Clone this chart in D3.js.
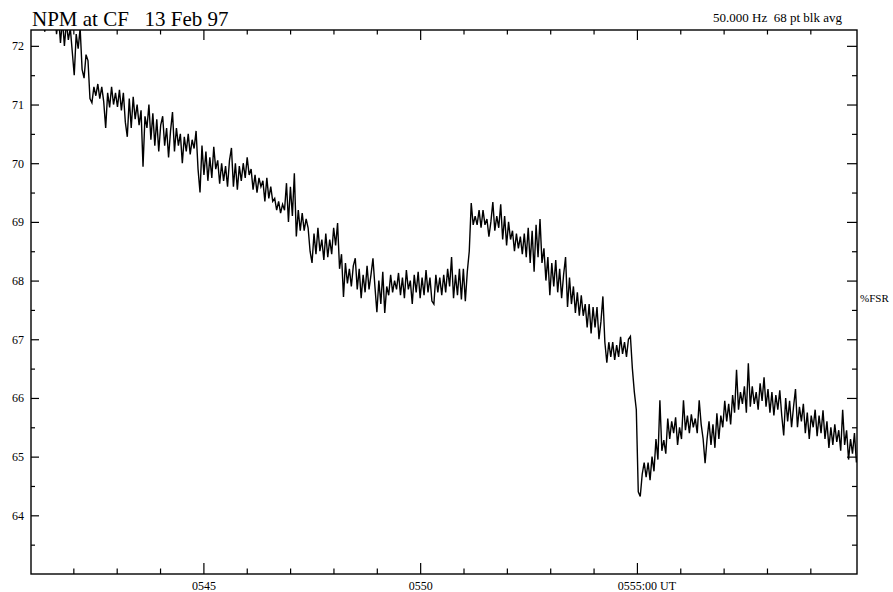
<!DOCTYPE html>
<html>
<head>
<meta charset="utf-8">
<script src="https://cdn.jsdelivr.net/npm/d3@7"></script>
<style>
  html, body { margin: 0; padding: 0; background: #fff; }
  svg { display: block; }
  text { font-family: "Liberation Serif", "Times New Roman", serif; fill: #000; }
</style>
</head>
<body>
<div id="chart"></div>
<script>
// ---- data ----
const titleText = "NPM at CF   13 Feb 97";
const infoText = "50.000 Hz  68 pt blk avg";
const unitText = "%FSR";

// time axis: seconds after 05:40:00 UT
const timeDomain = [61.4, 1204.6];
const majorTimeTicks = [300, 600, 900];
const majorTimeLabels = ["0545", "0550", "0555:00"];
const timeLabelSuffix = " UT";
const minorTimeTicks = [120, 180, 240, 360, 420, 480, 540, 660, 720, 780, 840, 960, 1020, 1080, 1140];

// value axis (%FSR)
const valueDomain = [63, 72.27];
const majorValueTicks = [64, 65, 66, 67, 68, 69, 70, 71, 72];
const minorValueTicks = [63.5, 64.5, 65.5, 66.5, 67.5, 68.5, 69.5, 70.5, 71.5];

// samples: first sample time and spacing (s)
const sampleStart = 61.4;
const sampleStep = 2.72;
const values = [
  72.6, 72.8, 72.5, 72.7, 72.4, 72.6, 72.5, 72.24, 72.6, 72.45,
  72.7, 72.4, 72.6, 72.2, 72.5, 72.05, 72.45, 72.0, 72.4, 72.1,
  72.3, 71.9, 71.5, 72.2, 71.95, 72.3, 71.6, 71.45, 71.85, 71.75,
  71.1, 71.03, 71.3, 71.15, 71.35, 71.1, 71.3, 71.05, 70.6, 71.2,
  70.95, 71.3, 71.0, 71.2, 70.96, 71.25, 70.9, 71.2, 70.7, 70.45,
  71.1, 70.6, 71.13, 70.75, 71.0, 70.65, 70.9, 69.94, 70.8, 70.6,
  71.0, 70.4, 70.85, 70.3, 70.75, 70.2, 70.65, 70.8, 70.3, 70.6,
  70.1, 70.55, 70.87, 70.2, 70.6, 70.3, 70.5, 70.0, 70.45, 70.2,
  70.5, 70.15, 70.4, 70.25, 70.55, 69.9, 69.5, 70.3, 69.8, 70.2,
  69.7, 70.1, 69.75, 70.28, 69.9, 70.05, 69.65, 70.0, 69.7, 69.95,
  69.6, 70.05, 70.26, 69.6, 70.0, 69.55, 69.95, 69.7, 70.0, 69.75,
  70.1, 69.8, 69.9, 69.55, 69.8, 69.5, 69.75, 69.6, 69.7, 69.35,
  69.75, 69.4, 69.6, 69.35, 69.4, 69.2, 69.35, 69.15, 69.3, 69.2,
  69.66, 69.0, 69.6, 69.1, 69.83, 68.75, 69.2, 68.85, 69.15, 68.85,
  69.05, 68.9, 68.5, 68.3, 68.8, 68.45, 68.9, 68.5, 68.7, 68.35,
  68.8, 68.4, 68.7, 68.45, 68.9, 68.6, 68.98, 68.2, 68.45, 67.72,
  68.3, 67.95, 68.2, 67.9, 68.25, 68.38, 67.85, 68.2, 67.7, 68.1,
  67.8, 68.25, 67.85, 68.1, 68.38, 67.9, 67.46, 68.0, 67.6, 68.15,
  67.45, 67.9, 67.75, 68.1, 67.8, 68.0, 67.85, 68.13, 67.75, 68.05,
  67.7, 68.18, 67.85, 68.0, 67.6, 68.1, 67.8, 68.15, 67.7, 68.05,
  67.75, 68.18, 67.8, 68.05, 67.65, 67.6, 68.1, 67.8, 68.05, 67.75,
  68.1, 67.8, 68.2, 67.9, 68.4, 67.7, 68.1, 67.75, 68.2, 67.68,
  68.2, 67.65, 68.15, 68.5, 69.32, 68.95, 69.1, 68.95, 69.2, 68.9,
  69.2, 68.95, 69.05, 68.75, 69.0, 69.34, 68.85, 69.1, 68.9, 69.3,
  68.7, 69.1, 68.6, 69.0, 68.7, 68.85, 68.5, 68.8, 68.55, 68.75,
  68.45, 68.8, 68.4, 68.9, 68.3, 68.85, 68.15, 68.95, 68.4, 69.05,
  68.3, 68.55, 68.0, 68.4, 67.75, 68.3, 67.9, 68.35, 67.8, 68.2,
  67.7, 68.1, 68.4, 67.55, 68.05, 67.6, 67.9, 67.45, 67.8, 67.4,
  67.75, 67.4, 67.6, 67.2, 67.6, 67.1, 67.55, 67.2, 67.55, 67.0,
  67.3, 67.73, 66.95, 66.6, 66.95, 66.7, 66.95, 66.65, 66.9, 66.7,
  67.04, 66.75, 66.95, 66.7, 67.0, 67.05, 66.5, 66.1, 65.8, 64.4,
  64.32, 64.7, 64.9, 64.65, 64.9, 64.6, 65.0, 64.75, 65.3, 64.95,
  65.96, 65.1, 65.28, 65.05, 65.65, 65.3, 65.6, 65.4, 65.67, 65.2,
  65.5, 65.3, 65.96, 65.45, 65.7, 65.4, 65.72, 65.5, 65.65, 65.4,
  65.96, 65.55, 65.3, 64.89, 65.3, 65.6, 65.2, 65.55, 65.15, 65.74,
  65.3, 65.7, 65.5, 65.95, 65.6, 65.9, 65.55, 66.05, 65.75, 66.48,
  65.8, 66.1, 65.9, 66.2, 65.75, 66.59, 65.85, 66.2, 65.9, 66.1,
  65.8, 66.25, 65.95, 66.35, 65.85, 66.15, 65.75, 66.1, 65.7, 66.05,
  65.8, 66.13, 65.7, 65.36, 66.0, 65.6, 65.95, 65.5, 65.85, 66.15,
  65.5, 65.85, 65.6, 65.9, 65.4, 65.75, 65.3, 65.7, 65.5, 65.8,
  65.35, 65.7, 65.4, 65.79, 65.3, 65.6, 65.15, 65.5, 65.2, 65.55,
  65.25, 65.45, 65.1, 65.8, 65.2, 65.45, 64.95, 65.3, 65.05, 65.4, 64.9
];
const samples = values.map((v, i) => ({ t: sampleStart + i * sampleStep, v }));

// ---- layout ----
const W = 893, H = 592;
const plot = { left: 31, right: 857, top: 30, bottom: 574 };

const svg = d3.select("#chart").append("svg")
  .attr("width", W).attr("height", H)
  .attr("viewBox", `0 0 ${W} ${H}`);

const x = d3.scaleLinear().domain(timeDomain).range([plot.left, plot.right]);
const y = d3.scaleLinear().domain(valueDomain).range([plot.bottom, plot.top]);

svg.append("defs").append("clipPath").attr("id", "clip")
  .append("rect")
  .attr("x", plot.left).attr("y", plot.top)
  .attr("width", plot.right - plot.left).attr("height", plot.bottom - plot.top);

// data line
const line = d3.line().x(d => x(d.t)).y(d => y(d.v));
svg.append("path")
  .datum(samples)
  .attr("clip-path", "url(#clip)")
  .attr("fill", "none")
  .attr("stroke", "#000")
  .attr("stroke-width", 1.4)
  .attr("stroke-linejoin", "miter")
  .attr("d", line);

// axes helper
function styleAxis(g) {
  g.select(".domain").remove();
  g.selectAll(".tick line").attr("stroke", "#000").attr("stroke-width", 1.2);
  g.selectAll("text").attr("font-family", "Liberation Serif, Times New Roman, serif").attr("fill", "#000");
}

// left axis
svg.append("g").attr("transform", `translate(${plot.left},0)`)
  .call(d3.axisLeft(y).tickValues(majorValueTicks).tickSize(-8).tickPadding(7).tickFormat(d3.format("d")))
  .call(styleAxis)
  .call(g => g.selectAll("text").attr("font-size", 12));
svg.append("g").attr("transform", `translate(${plot.left},0)`)
  .call(d3.axisLeft(y).tickValues(minorValueTicks).tickSize(-4).tickFormat(""))
  .call(styleAxis);

// right axis
svg.append("g").attr("transform", `translate(${plot.right},0)`)
  .call(d3.axisRight(y).tickValues(majorValueTicks).tickSize(-10).tickFormat(""))
  .call(styleAxis);
svg.append("g").attr("transform", `translate(${plot.right},0)`)
  .call(d3.axisRight(y).tickValues(minorValueTicks).tickSize(-5).tickFormat(""))
  .call(styleAxis);

// top axis
svg.append("g").attr("transform", `translate(0,${plot.top})`)
  .call(d3.axisTop(x).tickValues(majorTimeTicks).tickSize(-10).tickFormat(""))
  .call(styleAxis);
svg.append("g").attr("transform", `translate(0,${plot.top})`)
  .call(d3.axisTop(x).tickValues(minorTimeTicks).tickSize(-4.5).tickFormat(""))
  .call(styleAxis);

// bottom axis
const bottomAxis = svg.append("g").attr("transform", `translate(0,${plot.bottom})`)
  .call(d3.axisBottom(x).tickValues(majorTimeTicks).tickSize(-11).tickPadding(7.5)
    .tickFormat((d, i) => majorTimeLabels[i]))
  .call(styleAxis)
  .call(g => g.selectAll("text").attr("font-size", 12));
svg.append("g").attr("transform", `translate(0,${plot.bottom})`)
  .call(d3.axisBottom(x).tickValues(minorTimeTicks).tickSize(-5.5).tickFormat(""))
  .call(styleAxis);

// append " UT" to last label, keeping "0555:00" centred on its tick
bottomAxis.selectAll(".tick text").each(function(d, i) {
  if (i === majorTimeLabels.length - 1) {
    const t = d3.select(this);
    const base = this.getComputedTextLength();
    t.attr("text-anchor", "start").attr("x", -base / 2);
    t.append("tspan").attr("xml:space", "preserve").style("white-space", "pre").text(timeLabelSuffix);
  }
});

// frame
svg.append("rect")
  .attr("x", plot.left).attr("y", plot.top)
  .attr("width", plot.right - plot.left).attr("height", plot.bottom - plot.top)
  .attr("fill", "none").attr("stroke", "#000").attr("stroke-width", 1.4);

// title & annotations
svg.append("text")
  .attr("x", 32).attr("y", 26)
  .attr("font-size", 21)
  .style("white-space", "pre")
  .text(titleText);

svg.append("text")
  .attr("x", 842).attr("y", 22)
  .attr("text-anchor", "end")
  .attr("font-size", 13)
  .style("white-space", "pre")
  .text(infoText);

svg.append("text")
  .attr("x", 860).attr("y", 302)
  .attr("font-size", 11)
  .text(unitText);
</script>
</body>
</html>
